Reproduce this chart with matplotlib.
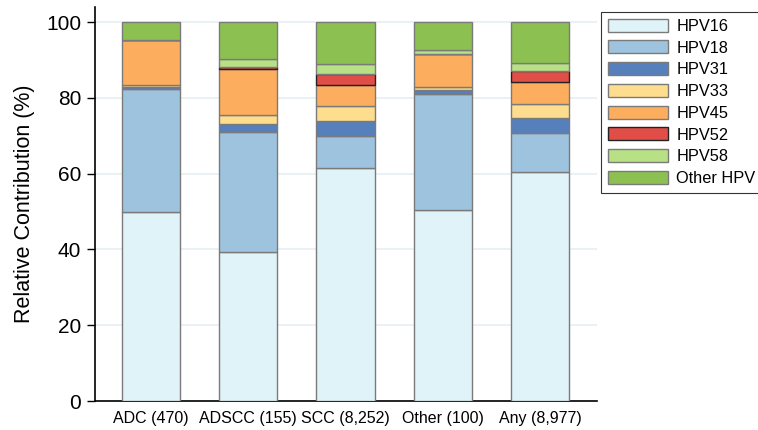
import numpy as np
import matplotlib
matplotlib.use("Agg")
import matplotlib.pyplot as plt

plt.rcParams['font.family'] = ['Liberation Sans', 'DejaVu Sans']

groups = ["ADC (470)", "ADSCC (155)", "SCC (8,252)", "Other (100)", "Any (8,977)"]
types = ["HPV16", "HPV18", "HPV31", "HPV33", "HPV45", "HPV52", "HPV58", "Other HPV"]

# relative contribution (%) per group, one list per HPV type
hpv16 = [50.0, 39.3, 61.6, 50.5, 60.5]
hpv18 = [32.3, 31.8, 8.3, 30.5, 10.3]
hpv31 = [0.6, 1.9, 4.1, 1.0, 3.8]
hpv33 = [0.4, 2.6, 4.0, 1.0, 3.7]
hpv45 = [12.0, 12.0, 5.4, 8.7, 5.8]
hpv52 = [0.0, 0.6, 3.0, 0.0, 2.9]
hpv58 = [0.0, 2.0, 2.5, 1.0, 2.3]
other = [4.7, 9.8, 11.1, 7.3, 10.7]

series = [hpv16, hpv18, hpv31, hpv33, hpv45, hpv52, hpv58, other]
colors = ["#e0f3f8", "#9dc3de", "#5680bb", "#fedd8f",
          "#fdad5e", "#e04e47", "#b8e186", "#8cc152"]
edges = ["#7a7a7a"] * 8
edges[5] = "#222222"

fig = plt.figure(figsize=(7.58, 4.30), dpi=100)
ax = fig.add_axes([0.1253, 0.0674, 0.6623, 0.9163])

x = np.arange(len(groups))
bottom = np.zeros(len(groups))
for vals, c, ec, name in zip(series, colors, edges, types):
    ax.bar(x, vals, width=0.6, bottom=bottom, color=c, edgecolor=ec,
           linewidth=1.0, label=name, zorder=3)
    bottom += np.array(vals)

ax.set_xlim(-0.576, 4.586)
ax.set_ylim(0, 104)
ax.set_yticks([0, 20, 40, 60, 80, 100])
ax.set_xticks(x)
ax.set_xticklabels(groups, fontsize=11.5)
ax.tick_params(axis='y', labelsize=15, length=6, width=1, direction='out', pad=4)
ax.tick_params(axis='x', length=0, pad=7)
ax.yaxis.grid(True, color="#e6eff3", linewidth=1.2, zorder=0)
ax.set_axisbelow(True)

for s in ["top", "right"]:
    ax.spines[s].set_visible(False)
for s in ["left", "bottom"]:
    ax.spines[s].set_linewidth(1.2)

ax.set_ylabel("Relative Contribution (%)", fontsize=15.5, labelpad=8)

leg = ax.legend(loc="upper left", bbox_to_anchor=(0.793, 0.972),
                bbox_transform=fig.transFigure, fontsize=11.8,
                fancybox=False, frameon=True, edgecolor="black",
                handlelength=3.7, handleheight=0.85, handletextpad=0.5,
                labelspacing=0.4, borderpad=0.4, borderaxespad=0)
leg.get_frame().set_linewidth(0.8)

fig.savefig("out.png", dpi=100)
